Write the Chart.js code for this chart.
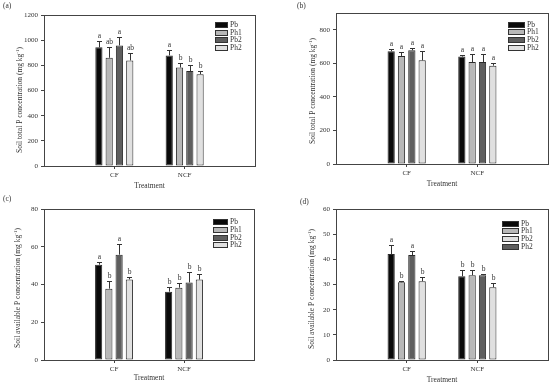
<!DOCTYPE html>
<html>
<head>
<meta charset="utf-8">
<script src="https://cdn.jsdelivr.net/npm/chart.js@4/dist/chart.umd.min.js"></script>
<style>
  body { margin: 0; background: #fff; }
  #wrap { position: relative; width: 550px; height: 384px; }
  .panel { position: absolute; width: 275px; height: 192px; }
</style>
</head>
<body>
<div id="wrap">
  <div class="panel" style="left:0;top:0"><canvas id="chartA" width="275" height="192"></canvas></div>
  <div class="panel" style="left:275px;top:0"><canvas id="chartB" width="275" height="192"></canvas></div>
  <div class="panel" style="left:0;top:192px"><canvas id="chartC" width="275" height="192"></canvas></div>
  <div class="panel" style="left:275px;top:192px"><canvas id="chartD" width="275" height="192"></canvas></div>
</div>
<script>
// categories on the x axis (blank slots at both ends keep the groups at 1/3 and 2/3)
const categories = ['CF', 'NCF'];

// (a) soil total P, rows = Pb, Ph1, Pb2, Ph2
const aMeans = [[943, 879], [860, 783], [958, 754], [839, 730]];
const aErrors = [[53, 40], [83, 32], [67, 48], [61, 24]];
const aLetters = [['a', 'a'], ['ab', 'b'], ['a', 'b'], ['ab', 'b']];
const aYTicks = [0, 200, 400, 600, 800, 1000, 1200];

// (b) soil total P, rows = Pb, Ph1, Pb2, Ph2
const bMeans = [[672, 640], [644, 608], [678, 608], [618, 586]];
const bErrors = [[12, 10], [22, 48], [14, 48], [58, 16]];
const bLetters = [['a', 'a'], ['a', 'a'], ['a', 'a'], ['a', 'a']];
const bYTicks = [0, 200, 400, 600, 800];

// (c) soil available P, rows = Pb, Ph1, Pb2, Ph2
const cMeans = [[50.5, 36.2], [37.8, 38.3], [55.8, 41.1], [42.7, 42.6]];
const cErrors = [[1.6, 2.7], [3.9, 2.3], [5.5, 5.7], [1.1, 3.1]];
const cLetters = [['a', 'b'], ['b', 'b'], ['a', 'b'], ['b', 'b']];
const cYTicks = [0, 20, 40, 60, 80];

// (d) soil available P, rows in bar order = Pb, Ph1, Ph2 (dark), Pb2 (light)
const dMeans = [[42.1, 33.3], [30.9, 33.7], [41.7, 33.7], [31.3, 28.9]];
const dErrors = [[3.4, 2.3], [0.6, 2.2], [1.7, 0.3], [1.5, 1.6]];
const dLetters = [['a', 'b'], ['b', 'b'], ['a', 'b'], ['b', 'b']];
const dYTicks = [0, 10, 20, 30, 40, 50, 60];

const barColors = ['#0a0a0a', '#b8b8b8', '#5e5e5e', '#e0e0e0'];
const serif = '"Liberation Serif", "Times New Roman", serif';
const ink = '#333';

const panels = [
  { id: 'chartA', tag: '(a)', means: aMeans, errs: aErrors, letters: aLetters, ticks: aYTicks, max: 1200,
    names: ['Pb', 'Ph1', 'Pb2', 'Ph2'], legendOrder: [0, 1, 2, 3],
    yTitle: 'Soil total P concentration', area: { l: 44, t: 15, r: 255, b: 166 },
    titleX: 20, titleY: 100, treatY: 186, tagX: 3, tagY: 6,
    legend: { x: 215, w: 12, rows: [25, 33, 40, 48], tx: 230 } },
  { id: 'chartB', tag: '(b)', means: bMeans, errs: bErrors, letters: bLetters, ticks: bYTicks, max: 900,
    names: ['Pb', 'Ph1', 'Pb2', 'Ph2'], legendOrder: [0, 1, 2, 3],
    yTitle: 'Soil total P concentration', area: { l: 61, t: 13, r: 273, b: 164 },
    titleX: 38, titleY: 91, treatY: 184, tagX: 22, tagY: 6,
    legend: { x: 233, w: 16, rows: [25, 32, 40, 48], tx: 252 } },
  { id: 'chartC', tag: '(c)', means: cMeans, errs: cErrors, letters: cLetters, ticks: cYTicks, max: 80,
    names: ['Pb', 'Ph1', 'Pb2', 'Ph2'], legendOrder: [0, 1, 2, 3],
    yTitle: 'Soil available P concentration', area: { l: 44, t: 17, r: 254, b: 168 },
    titleX: 18, titleY: 96, treatY: 186, tagX: 3, tagY: 7,
    legend: { x: 213, w: 14, rows: [30, 38, 46, 53], tx: 230 } },
  { id: 'chartD', tag: '(d)', means: dMeans, errs: dErrors, letters: dLetters, ticks: dYTicks, max: 60,
    names: ['Pb', 'Ph1', 'Ph2', 'Pb2'], legendOrder: [0, 1, 3, 2],
    yTitle: 'Soil available P concentration', area: { l: 61, t: 17, r: 273, b: 168 },
    titleX: 37, titleY: 97, treatY: 188, tagX: 25, tagY: 10,
    legend: { x: 227, w: 16, rows: [32, 39, 47, 55], tx: 246 } }
];

function pad(arr) {
  return [null].concat(arr, [null]);
}

const panelPlugin = {
  id: 'panelExtras',
  afterDatasetsDraw(chart) {
    const p = chart.options.plugins.panelExtras.panel;
    const ctx = chart.ctx;
    const y = chart.scales.y;
    ctx.save();
    ctx.strokeStyle = ink;
    ctx.lineWidth = 1;
    ctx.fillStyle = ink;
    ctx.font = '7.5px ' + serif;
    ctx.textAlign = 'center';
    ctx.textBaseline = 'bottom';
    p.means.forEach((row, di) => {
      const meta = chart.getDatasetMeta(di);
      row.forEach((v, i) => {
        const bar = meta.data[i + 1];
        const x = Math.round(bar.x) + 0.5;
        const yTop = Math.round(y.getPixelForValue(v + p.errs[di][i])) + 0.5;
        const yBar = y.getPixelForValue(v);
        ctx.beginPath();
        ctx.moveTo(x, yBar);
        ctx.lineTo(x, yTop);
        ctx.moveTo(x - 2.5, yTop);
        ctx.lineTo(x + 2.5, yTop);
        ctx.stroke();
        ctx.fillText(p.letters[di][i], x, yTop - 2);
      });
    });
    ctx.restore();
  },
  afterDraw(chart) {
    const p = chart.options.plugins.panelExtras.panel;
    const ctx = chart.ctx;
    const a = chart.chartArea;
    ctx.save();
    // frame
    ctx.strokeStyle = '#444';
    ctx.lineWidth = 1;
    ctx.strokeRect(Math.round(a.left) + 0.5, Math.round(a.top) + 0.5,
      Math.round(a.right - a.left), Math.round(a.bottom - a.top));

    ctx.fillStyle = ink;
    // panel tag
    ctx.font = '7.5px ' + serif;
    ctx.textAlign = 'left';
    ctx.textBaseline = 'middle';
    ctx.fillText(p.tag, p.tagX, p.tagY);

    // x title
    ctx.textAlign = 'center';
    ctx.fillText('Treatment', (a.left + a.right) / 2, p.treatY);

    // y title with superscript
    ctx.save();
    ctx.translate(p.titleX, p.titleY);
    ctx.rotate(-Math.PI / 2);
    const main = p.yTitle + ' (mg kg';
    const sup = '-1';
    const tail = ')';
    ctx.font = '7.5px ' + serif;
    const wMain = ctx.measureText(main).width;
    const wTail = ctx.measureText(tail).width;
    ctx.font = '5px ' + serif;
    const wSup = ctx.measureText(sup).width;
    const total = wMain + wSup + wTail;
    let x0 = -total / 2;
    ctx.textAlign = 'left';
    ctx.font = '7.5px ' + serif;
    ctx.fillText(main, x0, 0);
    ctx.font = '5px ' + serif;
    ctx.fillText(sup, x0 + wMain, -2.5);
    ctx.font = '7.5px ' + serif;
    ctx.fillText(tail, x0 + wMain + wSup, 0);
    ctx.restore();

    // legend
    const lg = p.legend;
    ctx.font = '7.5px ' + serif;
    ctx.textAlign = 'left';
    ctx.textBaseline = 'middle';
    p.legendOrder.forEach((di, k) => {
      const ry = lg.rows[k];
      ctx.fillStyle = barColors[di];
      ctx.fillRect(lg.x, ry - 2.5, lg.w, 5);
      ctx.strokeStyle = '#333';
      ctx.strokeRect(lg.x + 0.5, ry - 2.5, lg.w, 5);
      ctx.fillStyle = ink;
      ctx.fillText(p.names[di], lg.tx, ry);
    });
    ctx.restore();
  }
};

panels.forEach(p => {
  const datasets = p.means.map((row, di) => ({
    label: p.names[di],
    data: pad(row),
    backgroundColor: barColors[di],
    borderColor: '#2a2a2a',
    borderWidth: 1,
    borderSkipped: false,
    categoryPercentage: 0.585,
    barPercentage: 0.7
  }));

  new Chart(document.getElementById(p.id), {
    type: 'bar',
    data: {
      labels: pad(categories).map(c => c || ''),
      datasets: datasets
    },
    options: {
      responsive: false,
      animation: false,
      layout: {
        padding: { left: 0, top: p.area.t, right: 275 - p.area.r, bottom: 0 }
      },
      plugins: {
        legend: { display: false },
        tooltip: { enabled: false },
        panelExtras: { panel: p }
      },
      scales: {
        x: {
          type: 'category',
          offset: false,
          border: { display: false },
          grid: {
            offset: false,
            drawOnChartArea: false,
            tickLength: 3,
            color: c => (c.tick && c.tick.label) ? '#444' : 'rgba(0,0,0,0)'
          },
          ticks: {
            font: { family: serif, size: 7 },
            color: ink,
            padding: 2,
            maxRotation: 0,
            autoSkip: false
          },
          afterFit: scale => { scale.height = 192 - p.area.b; }
        },
        y: {
          min: 0,
          max: p.max,
          border: { display: false },
          grid: {
            drawOnChartArea: false,
            tickLength: 3,
            color: '#444'
          },
          ticks: {
            font: { family: serif, size: 7 },
            color: ink,
            padding: 3,
            callback: v => String(v)
          },
          afterBuildTicks: scale => {
            scale.ticks = p.ticks.map(v => ({ value: v }));
          },
          afterFit: scale => { scale.width = p.area.l; }
        }
      }
    },
    plugins: [panelPlugin]
  });
});
</script>
</body>
</html>
